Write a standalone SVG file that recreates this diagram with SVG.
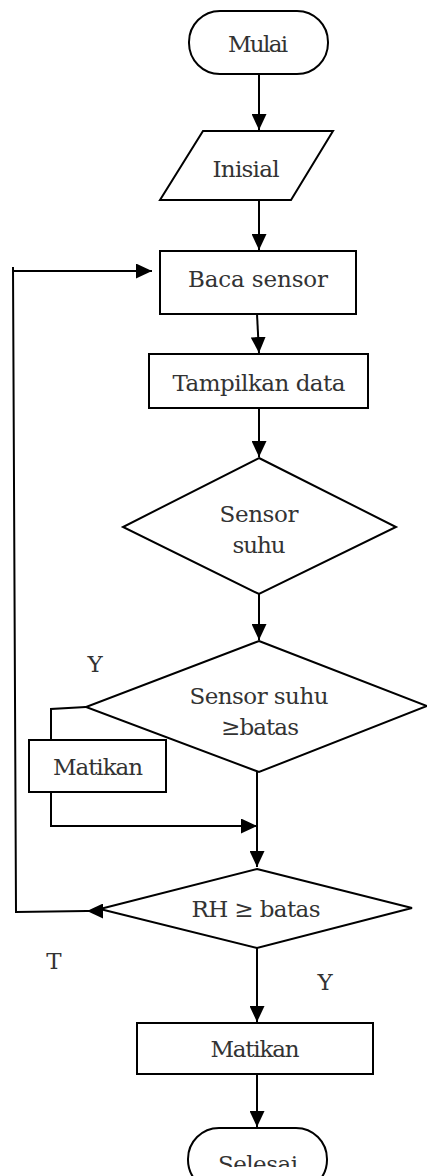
<svg xmlns="http://www.w3.org/2000/svg" width="427" height="1176" viewBox="0 0 427 1176">
<style>
.s{fill:#fff;stroke:#000;stroke-width:2}
.c{fill:none;stroke:#000;stroke-width:2}
.t{font-family:"DejaVu Serif","Liberation Serif",serif;font-size:23px;fill:#333;text-anchor:middle}
</style>
<defs>
<marker id="a" markerUnits="userSpaceOnUse" markerWidth="16" markerHeight="15" refX="16" refY="7.5" orient="auto">
<path d="M0,0 L16,7.5 L0,15 z" fill="#000"/>
</marker>
<clipPath id="clip"><rect x="0" y="0" width="427" height="1167"/></clipPath>
</defs>
<rect width="427" height="1176" fill="#fff"/>
<g id="connectors">
<line class="c" x1="259" y1="74" x2="259" y2="130" marker-end="url(#a)"/>
<line class="c" x1="259" y1="200" x2="259" y2="250" marker-end="url(#a)"/>
<line class="c" x1="257" y1="314" x2="259" y2="353" marker-end="url(#a)"/>
<line class="c" x1="259" y1="408" x2="259" y2="457" marker-end="url(#a)"/>
<line class="c" x1="259" y1="594" x2="259" y2="640" marker-end="url(#a)"/>
<polyline class="c" points="86,707 51,709 51,740"/>
<polyline class="c" points="51,792 51,826 257,826" marker-end="url(#a)"/>
<line class="c" x1="257" y1="772" x2="257" y2="867" marker-end="url(#a)"/>
<line class="c" x1="102" y1="911" x2="87" y2="911" marker-end="url(#a)"/>
<polyline class="c" points="87,911 16,912 13,267"/>
<line class="c" x1="13" y1="271" x2="152" y2="271" marker-end="url(#a)"/>
<line class="c" x1="257" y1="948" x2="257" y2="1022" marker-end="url(#a)"/>
<line class="c" x1="257" y1="1074" x2="257" y2="1127" marker-end="url(#a)"/>
</g>
<g id="mulai"><rect class="s" x="189" y="11" width="139" height="63" rx="31" ry="31"/><text class="t" x="258" y="52" textLength="60">Mulai</text></g>
<g id="inisial"><polygon class="s" points="203,131 333,131 291,200 160,200"/><text class="t" x="246" y="177" textLength="67">Inisial</text></g>
<g id="baca"><rect class="s" x="160" y="251" width="196" height="63"/><text class="t" x="258" y="287" textLength="140">Baca sensor</text></g>
<g id="tampilkan"><rect class="s" x="149" y="354" width="219" height="54"/><text class="t" x="259" y="391" textLength="173">Tampilkan data</text></g>
<g id="d1"><polygon class="s" points="259,458 396,527 259,594 123,527"/><text class="t" x="259" y="522" textLength="79">Sensor</text><text class="t" x="259" y="553" textLength="53">suhu</text></g>
<g id="d2"><polygon class="s" points="259,641 427,706 259,772 86,707"/><text class="t" x="259" y="704" textLength="139">Sensor suhu</text><text class="t" x="260" y="735" textLength="78">≥batas</text></g>
<g id="matikan1"><rect class="s" x="29" y="740" width="137" height="52"/><text class="t" x="98" y="775" textLength="90">Matikan</text></g>
<g id="d3"><polygon class="s" points="257,869 412,908 257,948 100,909"/><text class="t" x="256" y="917" textLength="129">RH ≥ batas</text></g>
<g id="matikan2"><rect class="s" x="137" y="1023" width="236" height="51"/><text class="t" x="255" y="1057" textLength="89">Matikan</text></g>
<g id="selesai"><rect class="s" x="188" y="1128" width="139" height="63" rx="31" ry="31"/><text class="t" x="258" y="1172" textLength="80" clip-path="url(#clip)">Selesai</text></g>
<g id="labels">
<text class="t" x="95" y="672">Y</text>
<text class="t" x="54" y="969">T</text>
<text class="t" x="325" y="990">Y</text>
</g>
</svg>
